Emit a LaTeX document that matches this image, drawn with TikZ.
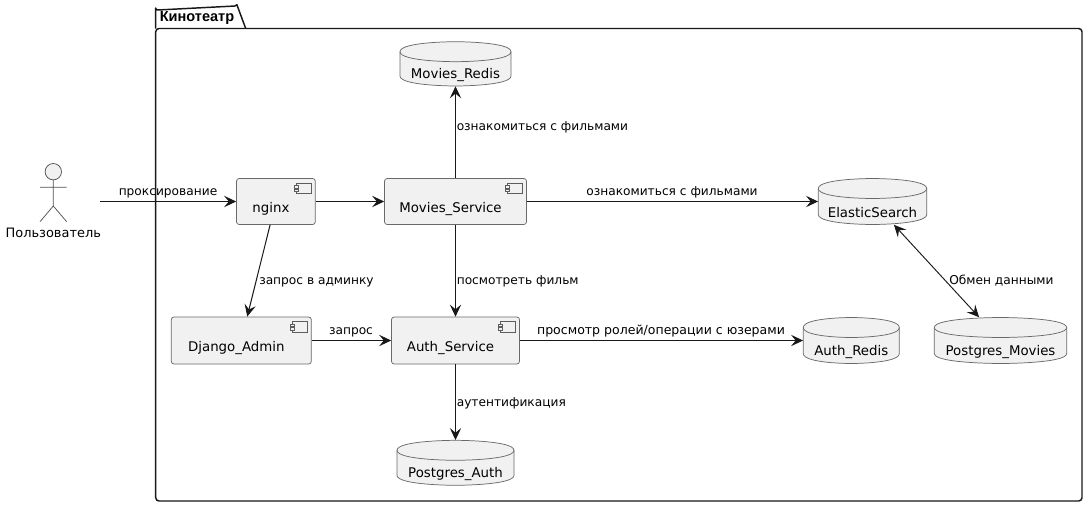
\documentclass[tikz,border=0pt]{standalone}
\usepackage{fontspec}
\setmainfont{DejaVu Sans}
\newfontfamily\titlefont{Liberation Sans}
\usetikzlibrary{arrows.meta}
\definecolor{nodefill}{HTML}{F1F1F1}
\definecolor{ink}{HTML}{181818}
\tikzset{
  x=0.75pt,y=-0.75pt,
  frameline/.style={draw=ink,line width=1.1pt,line join=round},
  shapeline/.style={draw=ink!65,line width=0.55pt,fill=nodefill},
  compbox/.style={shapeline,rounded corners=2pt,inner sep=0pt,font=\fontsize{10pt}{12pt}\selectfont},
  dbbox/.style={inner sep=0pt,font=\fontsize{10pt}{12pt}\selectfont},
  iconline/.style={draw=ink!70,line width=0.4pt,fill=nodefill},
  actorline/.style={draw=ink!75,line width=0.55pt},
  conn/.style={draw=ink,line width=0.75pt,-{Stealth[length=9pt,width=8.5pt,inset=3.5pt]}},
  biconn/.style={draw=ink,line width=0.7pt,{Stealth[length=9pt,width=8.5pt,inset=3.5pt]}-{Stealth[length=9pt,width=8.5pt,inset=3.5pt]}},
  edgelabel/.style={inner sep=0pt,anchor=base west,text=black,font=\fontsize{9.15pt}{11pt}\selectfont},
  edgelabelc/.style={edgelabel,anchor=base},
}
\newcommand{\compnode}[7]{% name, x0,y0,x1,y1, text, baseline offset
  \node[compbox,minimum width={(#4-#2)*0.75pt},minimum height={(#5-#3)*0.75pt}] (#1) at ({(#2+#4)/2},{(#3+#5)/2}) {\raisebox{-#7pt}[0pt][0pt]{#6\hspace*{7.5pt}}};
  \begin{scope}[shift={(#1.north east)}]
    \draw[iconline] (-19.6,5) rectangle (-4.6,15.4);
    \draw[iconline] (-21.6,7.6) rectangle (-17.6,10);
    \draw[iconline] (-21.6,11) rectangle (-17.6,13.4);
  \end{scope}
}
\newcommand{\dbnode}[7]{% name, x0,y0,x1,y1, text, baseline offset
  \pgfmathsetmacro{\cxm}{(#2+#4)/2}
  \draw[shapeline] (#2,#3+10) .. controls (#2,#3) and (\cxm,#3) .. (\cxm,#3)
     .. controls (\cxm,#3) and (#4,#3) .. (#4,#3+10) -- (#4,#5-10)
     .. controls (#4,#5) and (\cxm,#5) .. (\cxm,#5)
     .. controls (\cxm,#5) and (#2,#5) .. (#2,#5-10) -- cycle;
  \draw[shapeline,fill=none] (#2,#3+10) .. controls (#2,#3+20) and (\cxm,#3+20) .. (\cxm,#3+20)
     .. controls (\cxm,#3+20) and (#4,#3+20) .. (#4,#3+10);
  \node[dbbox,minimum width={(#4-#2)*0.75pt},minimum height={(#5-#3)*0.75pt}] (#1) at (\cxm,{(#3+#5)/2}) {\raisebox{-#7pt}[0pt][0pt]{#6}};
}
\begin{document}
\begin{tikzpicture}
\useasboundingbox (0,0) rectangle (1088,507);
\fill[white] (0,0) rectangle (1088,507);
% package
\draw[frameline] (155.7,28.5) -- (155.7,8) arc[start angle=180,end angle=90,radius=2] -- (235,6) arc[start angle=90,end angle=20,radius=2] -- (245.7,28.5);
\draw[frameline,rounded corners=2.5pt] (155.7,28.5) -- (1082,28.5) -- (1082,501) -- (155.7,501) -- cycle;
\node[inner sep=0pt,anchor=base west,font=\titlefont\bfseries\fontsize{10.9pt}{12pt}\selectfont] (pkg) at (159.5,21.7) {Кинотеатр};
% actor
\coordinate (user) at (53.3,171.7);
\draw[actorline,fill=nodefill] (user) circle[radius=8.2];
\draw[actorline] (53.3,180) -- (53.3,206) (40,187.3) -- (66.7,187.3) (40,221.7) -- (53.3,206) -- (66.7,221.7);
\node[inner sep=0pt,anchor=base,font=\fontsize{9.7pt}{12pt}\selectfont] (userlabel) at (53.3,237.5) {Пользователь};
\coordinate (userout) at (100,201.5);
% components
\compnode{nginx}{236.5}{178.5}{315.3}{224.5}{nginx}{7.9}
\compnode{movies}{384.5}{178.5}{526.5}{224.5}{Movies\_Service}{7.9}
\compnode{django}{171.3}{317}{311.3}{364}{Django\_Admin}{8}
\compnode{auth}{391.5}{317}{519.5}{364}{Auth\_Service}{8}
% databases
\dbnode{redis}{400}{41.7}{511}{86}{Movies\_Redis}{10.9}
\dbnode{elastic}{818.3}{178.5}{926.7}{224.5}{ElasticSearch}{12}
\dbnode{authredis}{803.3}{317.5}{899.3}{363.5}{Auth\_Redis}{10.9}
\dbnode{pgmovies}{934.3}{317.5}{1066.7}{363.5}{Postgres\_Movies}{10.9}
\dbnode{pgauth}{397}{440.3}{514}{485.3}{Postgres\_Auth}{11.2}
% connectors
\draw[conn] (userout) -- (nginx);
\draw[conn] (nginx) -- (movies);
\draw[conn] (movies) -- (redis);
\draw[conn] (movies) -- (elastic);
\draw[conn] (movies) -- (auth);
\draw[conn] (nginx) -- (django);
\draw[conn] (django) -- (auth);
\draw[conn] (auth) -- (authredis);
\draw[conn] (auth) -- (pgauth);
\draw[biconn] (elastic) -- (pgmovies);
% labels
\node[edgelabelc] (l1) at (168,195.5) {проксирование};
\node[edgelabel] (l2) at (456.5,130.5) {ознакомиться с фильмами};
\node[edgelabelc] (l3) at (672,195) {ознакомиться с фильмами};
\node[edgelabel] (l4) at (456.5,284.5) {посмотреть фильм};
\node[edgelabel] (l5) at (259,284.5) {запрос в админку};
\node[edgelabelc] (l6) at (351,334.5) {запрос};
\node[edgelabelc,font=\fontsize{9.4pt}{11pt}\selectfont] (l7) at (661,334.5) {просмотр ролей/операции с юзерами};
\node[edgelabel] (l8) at (456.5,406.5) {аутентификация};
\node[edgelabel] (l9) at (949,284.5) {Обмен данными};
\end{tikzpicture}
\end{document}
